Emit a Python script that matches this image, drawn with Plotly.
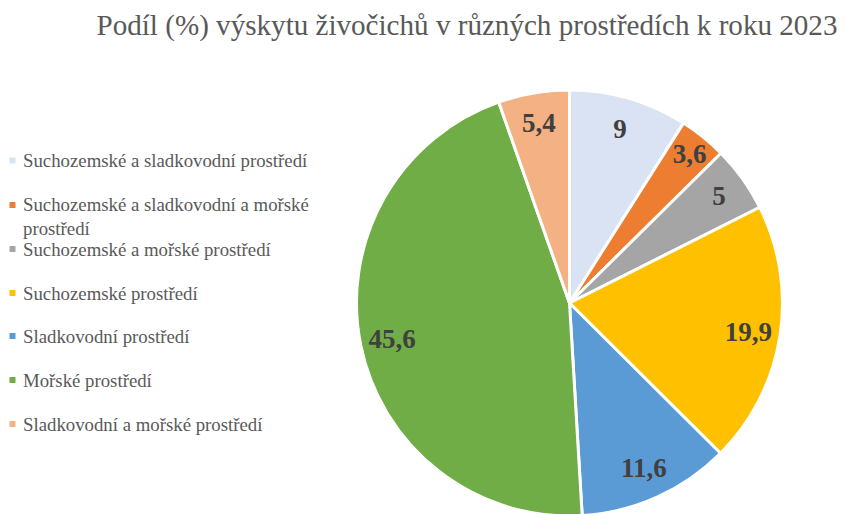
import plotly.graph_objects as go

categories = [
    "Suchozemské a sladkovodní prostředí",
    "Suchozemské a sladkovodní a mořské prostředí",
    "Suchozemské a mořské prostředí",
    "Suchozemské prostředí",
    "Sladkovodní prostředí",
    "Mořské prostředí",
    "Sladkovodní a mořské prostředí",
]
values = [9, 3.6, 5, 19.9, 11.6, 45.6, 5.4]
colors = ["#DAE3F3", "#ED7D31", "#A5A5A5", "#FFC000", "#5B9BD5", "#70AD47", "#F4B183"]
title_text = "Podíl (%) výskytu živočichů v různých prostředích k roku 2023"

W, H = 845, 514
OFF = 8  # page body margin


def px(x):
    return (x - OFF) / W


def py(y):
    return 1 - (y - OFF) / H


# pie geometry (page pixels)
CX, CY, R = 569.5, 303, 213
dom_x = [px(CX - R), px(CX + R)]
dom_y = [py(CY + R), py(CY - R)]

fig = go.Figure()
fig.add_trace(go.Pie(
    labels=categories, values=values, sort=False, direction="clockwise", rotation=0,
    marker=dict(colors=colors, line=dict(color="white", width=3)),
    textinfo="none", domain=dict(x=dom_x, y=dom_y), showlegend=False,
    hoverinfo="label+value",
))
fig.add_trace(go.Pie(
    labels=categories, values=values, sort=False, direction="clockwise", rotation=0,
    hole=0.7, showlegend=False,
    marker=dict(colors=["rgba(0,0,0,0)"] * len(values), line=dict(width=0)),
    textinfo="value", textposition="inside", insidetextorientation="horizontal",
    insidetextfont=dict(family="Liberation Serif", size=27, color="#404040", weight="bold"),
    domain=dict(x=dom_x, y=dom_y), hoverinfo="skip",
))

# legend (left column)
legend_rows = [160.5, 205, 249, 293, 336, 380, 424]
legend_display = list(categories)
legend_display[1] = "Suchozemské a sladkovodní a mořské<br>prostředí"
annotations = []
shapes = []
for lab, col, yc in zip(legend_display, colors, legend_rows):
    lines = lab.count("<br>") + 1
    annotations.append(dict(
        text=lab, x=px(21), y=py(yc + (lines - 1) * 11.5), xref="paper", yref="paper",
        xanchor="left", yanchor="middle", align="left", showarrow=False,
        font=dict(family="Liberation Serif", size=18.8, color="#595959"),
    ))
    shapes.append(dict(type="rect", xref="paper", yref="paper",
                       x0=px(9.5), x1=px(15.5), y0=py(yc + 3), y1=py(yc - 3),
                       fillcolor=col, line=dict(width=0)))

fig.update_layout(
    width=W, height=H, separators=", ",
    margin=dict(l=0, r=0, t=0, b=0),
    paper_bgcolor="white", plot_bgcolor="white",
    title=dict(text=title_text, x=px(467), xanchor="center", y=py(25), yanchor="middle",
               yref="container", xref="container",
               font=dict(family="Liberation Serif", size=29.1, color="#595959")),
    annotations=annotations, shapes=shapes,
    uniformtext=dict(minsize=27, mode="show"),
)
fig.write_html("out.html")
